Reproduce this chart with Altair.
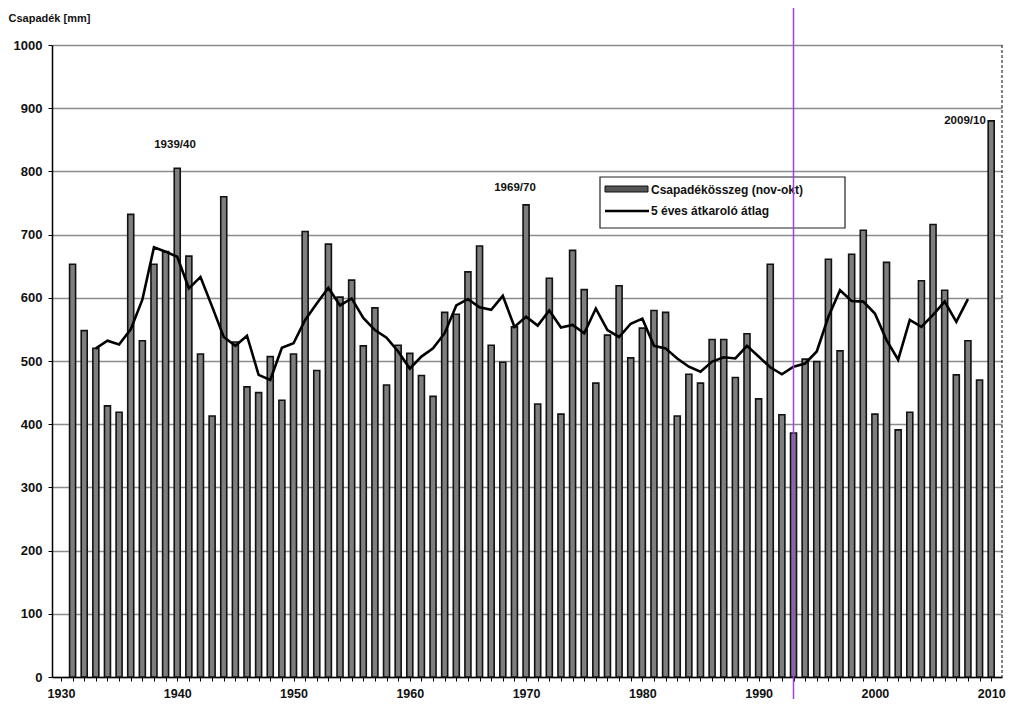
import altair as alt
import pandas as pd

# --- data ---
years = list(range(1931, 2011))
precip = [653, 548, 520, 429, 419, 732, 532, 653, 673, 805,
          666, 511, 413, 760, 530, 459, 450, 507, 438, 511,
          705, 485, 685, 601, 628, 524, 584, 462, 525, 512,
          477, 444, 577, 574, 641, 682, 525, 498, 554, 747,
          432, 631, 416, 675, 613, 465, 541, 619, 505, 552,
          580, 577, 413, 479, 465, 534, 534, 474, 543, 440,
          653, 415, 386, 503, 499, 661, 516, 669, 707, 416,
          656, 391, 419, 627, 716, 612, 478, 532, 470, 880]

ma_years = list(range(1933, 2009))
ma_values = [520, 532, 526, 550, 597, 680, 673, 665, 615, 633,
             586, 538, 524, 540, 478, 470, 521, 528, 565, 591,
             616, 588, 599, 568, 549, 537, 515, 488, 507, 520,
             544, 588, 598, 585, 581, 603, 554, 570, 556, 580,
             553, 557, 544, 583, 549, 538, 559, 567, 524, 520,
             504, 491, 483, 499, 506, 504, 524, 507, 490, 479,
             491, 496, 515, 570, 612, 595, 594, 575, 533, 502,
             565, 554, 573, 594, 562, 598]

marker_year = 1993
y_ticks = list(range(0, 1001, 100))
x_ticks = list(range(1930, 2011))

legend_labels = ["Csapadékösszeg (nov-okt)", "5 éves átkaroló átlag"]
annotations = ["1939/40", "1969/70", "2009/10"]
y_title = "Csapadék [mm]"

bars_df = pd.DataFrame({"year": years, "value": precip})
ma_df = pd.DataFrame({"year": ma_years, "value": ma_values})

FONT = "Liberation Sans"
W, H = 950, 632

x_scale = alt.Scale(domain=[1929.66, 2010.5], nice=False, zero=False)
y_scale = alt.Scale(domain=[0, 1000], nice=False)

x_axis = alt.Axis(values=x_ticks, tickCount=200, format="d",
                  labelExpr="datum.value % 10 == 0 ? datum.label : ''",
                  labelOverlap=False,
                  title=None, grid=False, labelFlush=False,
                  tickSize=4, tickColor="black", domainColor="black",
                  domainWidth=1.5, labelPadding=6, labelFontSize=12.5,
                  labelFontWeight="bold", labelColor="#111")
y_axis = alt.Axis(values=y_ticks, format="d", title=y_title, titleAngle=0,
                  titleX=-44, titleY=-27, titleAlign="left",
                  titleBaseline="middle", titleFontSize=11,
                  titleFontWeight="bold", titleColor="#111",
                  grid=True, gridColor="#8c8c8c", gridWidth=1.3,
                  labelOverlap=False,
                  tickSize=4, tickColor="black", domainColor="black",
                  domainWidth=1.5, labelPadding=6, labelFontSize=13,
                  labelFontWeight="bold", labelColor="#111")

bars = alt.Chart(bars_df).mark_bar(width=6, fill="#7e7e7e", stroke="#111",
                                   strokeWidth=1.6).encode(
    x=alt.X("year:Q", scale=x_scale, axis=x_axis),
    y=alt.Y("value:Q", scale=y_scale, axis=y_axis),
)

line = alt.Chart(ma_df).mark_line(color="black", strokeWidth=2.6).encode(
    x=alt.X("year:Q", scale=x_scale),
    y=alt.Y("value:Q", scale=y_scale),
)

one = alt.Data(values=[{}])

marker = alt.Chart(one).mark_rule(color="#a040f0", strokeWidth=1.5).encode(
    x=alt.datum(marker_year, scale=x_scale),
    y=alt.value(-37), y2=alt.value(H + 22),
)

right_border = alt.Chart(one).mark_rule(color="#333", strokeWidth=1.2,
                                        strokeDash=[3, 2]).encode(
    x=alt.value(W), y=alt.value(0), y2=alt.value(H),
)

ann_pos = [(123, 100), (463, 143), (913, 76)]
ann_layers = [
    alt.Chart(one).mark_text(text=t, font=FONT, fontSize=11.5,
                             fontWeight="bold", color="#111",
                             align="center", baseline="middle").encode(
        x=alt.value(px), y=alt.value(py))
    for t, (px, py) in zip(annotations, ann_pos)
]

legend_box = alt.Chart(one).mark_rect(fill="white", stroke="#222",
                                      strokeWidth=1.2).encode(
    x=alt.value(548), x2=alt.value(793), y=alt.value(132), y2=alt.value(183))
legend_bar = alt.Chart(one).mark_rect(fill="#555", stroke="#111",
                                      strokeWidth=1).encode(
    x=alt.value(553), x2=alt.value(596), y=alt.value(141), y2=alt.value(147))
legend_line = alt.Chart(one).mark_rule(color="black", strokeWidth=2.6).encode(
    x=alt.value(553), x2=alt.value(597), y=alt.value(166))
legend_t1 = alt.Chart(one).mark_text(text=legend_labels[0], font=FONT,
                                     fontSize=12, fontWeight="bold",
                                     color="#111", align="left",
                                     baseline="middle").encode(
    x=alt.value(599), y=alt.value(145))
legend_t2 = alt.Chart(one).mark_text(text=legend_labels[1], font=FONT,
                                     fontSize=12, fontWeight="bold",
                                     color="#111", align="left",
                                     baseline="middle").encode(
    x=alt.value(599), y=alt.value(166))

chart = alt.layer(
    bars, line, right_border, *ann_layers,
    legend_box, legend_bar, legend_line, legend_t1, legend_t2, marker,
).properties(
    width=W, height=H,
    padding={"left": 44, "top": 37, "right": 7, "bottom": 22},
    autosize=alt.AutoSizeParams(type="none"),
    background="white",
).configure_view(stroke=None).configure_axis(labelFont=FONT, titleFont=FONT)

chart.save("out.html", embed_options={"renderer": "svg", "actions": False})
